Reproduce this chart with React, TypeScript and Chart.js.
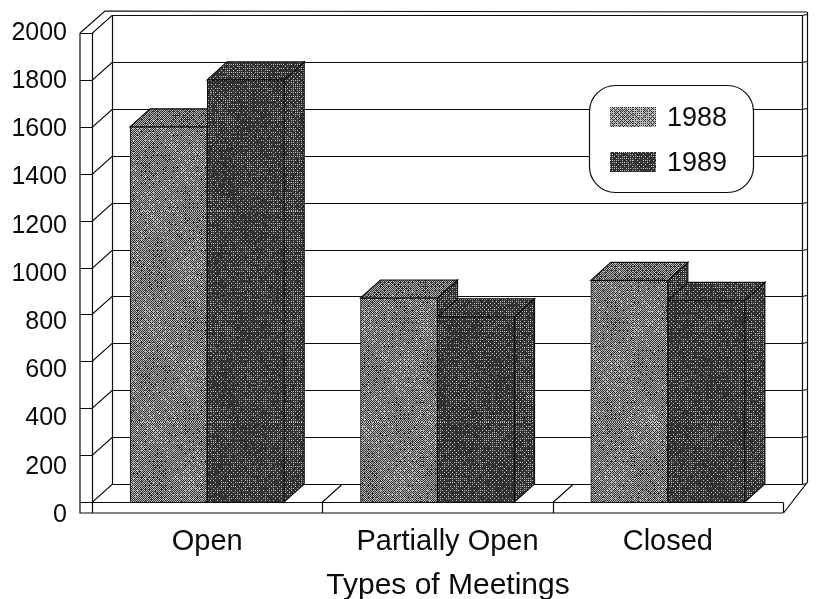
import React, { useEffect, useRef } from "react";
import { Chart, registerables } from "chart.js";

Chart.register(...registerables);

const categories = ["Open", "Partially Open", "Closed"];
const values1988 = [1600, 870, 945];
const values1989 = [1800, 790, 860];
const yearLabels = ["1988", "1989"];
const axisTitle = "Types of Meetings";

const INK = "#0c0c0c";
const DX = 20;
const DY = 18;
const FONT = "Liberation Sans, Arial, sans-serif";

const bayer = [
  [0, 8, 2, 10],
  [12, 4, 14, 6],
  [3, 11, 1, 9],
  [15, 7, 13, 5],
];

function dither(base: number, swing: number, seed: number): CanvasPattern {
  const size = 211;
  const c = document.createElement("canvas");
  c.width = size;
  c.height = size;
  const g = c.getContext("2d")!;
  const img = g.createImageData(size, size);
  for (let y = 0; y < size; y++) {
    for (let x = 0; x < size; x++) {
      const h = Math.sin(x * 12.9898 + y * 78.233 + seed) * 43758.5453;
      const grain = h - Math.floor(h) - 0.5;
      const blotch =
        Math.sin((x + seed) * 0.0893) * Math.cos((y - seed) * 0.0595) +
        0.4 * Math.sin(x * 0.238 - y * 0.119 + seed);
      const level = base + swing * blotch + grain * 50;
      const t = ((bayer[y % 4][x % 4] + 0.5) / 16) * 255;
      const v = level > t ? 185 : 50;
      const i = (y * size + x) * 4;
      img.data[i] = v;
      img.data[i + 1] = v;
      img.data[i + 2] = v;
      img.data[i + 3] = 255;
    }
  }
  g.putImageData(img, 0, 0);
  return g.createPattern(c, "repeat")!;
}

function line(ctx: CanvasRenderingContext2D, pts: number[][]) {
  ctx.beginPath();
  pts.forEach((p, i) => (i ? ctx.lineTo(p[0], p[1]) : ctx.moveTo(p[0], p[1])));
  ctx.stroke();
}

function poly(ctx: CanvasRenderingContext2D, pts: number[][], fill: any) {
  ctx.beginPath();
  pts.forEach((p, i) => (i ? ctx.lineTo(p[0], p[1]) : ctx.moveTo(p[0], p[1])));
  ctx.closePath();
  ctx.fillStyle = fill;
  ctx.fill();
  ctx.stroke();
}

export default function App() {
  const ref = useRef<HTMLCanvasElement>(null);

  useEffect(() => {
    const front = [dither(130, 16, 3), dither(32, 10, 11)];
    const top = [dither(112, 10, 7), dither(40, 8, 19)];
    const side = [dither(40, 8, 5), dither(42, 8, 23)];
    const swatch = [dither(165, 14, 2), dither(40, 10, 9)];
    const adjusted = new WeakSet<object>();

    const walls = {
      id: "walls",
      beforeDraw(chart: any) {
        const xs = chart.scales.x.getLabelItems();
        if (!adjusted.has(xs)) {
          adjusted.add(xs);
          xs[1].options.translation[0] += 10;
        }
        const ys = chart.scales.y.getLabelItems();
        if (!adjusted.has(ys)) {
          adjusted.add(ys);
          const n = ys.length - 1;
          ys.forEach((it: any, i: number) => {
            it.options.translation[1] += 13 * (1 - i / n);
          });
        }
      },
      beforeDatasetsDraw(chart: any) {
        const { ctx, chartArea: a, scales } = chart;
        const y = scales.y;
        const L = a.left;
        const R = a.right;
        const B = a.bottom;
        const T = a.top;
        ctx.save();
        ctx.strokeStyle = INK;
        ctx.lineWidth = 1.2;
        y.ticks.forEach((t: any) => {
          const py = Math.round(y.getPixelForValue(t.value)) + 0.5;
          line(ctx, [[L - 12, py], [L, py], [L + DX, py - DY], [R + DX - 1, py - DY]]);
          line(ctx, [[R + DX - 1, py - DY], [R + DX + 4, py - DY - 1]]);
        });
        line(ctx, [[L - 12, T], [L - 12, B + 11], [R, B + 11]]);
        line(ctx, [[L + 0.5, T], [L + 0.5, B + 11]]);
        line(ctx, [[L + DX + 0.5, T - DY], [L + DX + 0.5, B - DY]]);
        line(ctx, [[L - 12, T], [L + 13, T - 22], [R + DX + 4, T - 21]]);
        line(ctx, [[R + DX - 1 + 0.5, T - DY], [R + DX - 1 + 0.5, B - DY]]);
        line(ctx, [[R + DX + 4.5, T - 21], [R + DX + 4.5, B - 20], [R + 0.5, B + 11]]);
        line(ctx, [[R + 0.5, B + 0.5], [R + 0.5, B + 11]]);
        const band = (R - L) / categories.length;
        for (let i = 1; i < categories.length; i++) {
          const px = Math.round(L + band * i) + 0.5;
          line(ctx, [[px, B + 11], [px, B], [px + DX, B - DY]]);
        }
        chart.data.datasets.forEach((_: any, d: number) => {
          chart.getDatasetMeta(d).data.forEach((bar: any) => {
            const l = bar.x - bar.width / 2;
            const r = bar.x + bar.width / 2;
            poly(ctx, [[r, bar.y], [r + DX, bar.y - DY], [r + DX, bar.base - DY], [r, bar.base]], side[d]);
            poly(ctx, [[l, bar.y], [l + DX, bar.y - DY], [r + DX, bar.y - DY], [r, bar.y]], top[d]);
          });
        });
        ctx.restore();
      },
      afterDatasetsDraw(chart: any) {
        const { ctx, chartArea: a } = chart;
        ctx.save();
        ctx.strokeStyle = INK;
        ctx.lineWidth = 1.2;
        line(ctx, [[a.left - 12, a.bottom + 0.5], [a.right, a.bottom + 0.5]]);

        ctx.beginPath();
        ctx.roundRect(589.5, 85.5, 164, 107, 26);
        ctx.fillStyle = "#ffffff";
        ctx.fill();
        ctx.stroke();
        ctx.textBaseline = "middle";
        ctx.textAlign = "left";
        ctx.font = `27px ${FONT}`;
        yearLabels.forEach((label, i) => {
          const cy = 117 + i * 45;
          ctx.fillStyle = swatch[i];
          ctx.fillRect(610, cy - 10, 46, 20);
          ctx.fillStyle = INK;
          ctx.fillText(label, 667, cy + 2);
        });

        ctx.textAlign = "center";
        ctx.fillStyle = INK;
        ctx.font = `30px ${FONT}`;
        ctx.fillText(axisTitle, 448, 586);
        ctx.restore();
      },
    };

    const barStyle = { borderColor: INK, borderWidth: 1, barThickness: 77 };

    const chart = new Chart(ref.current!, {
      type: "bar",
      data: {
        labels: categories,
        datasets: [
          { label: yearLabels[0], data: values1988, backgroundColor: front[0] as any, ...barStyle },
          { label: yearLabels[1], data: values1989, backgroundColor: front[1] as any, ...barStyle },
        ],
      },
      options: {
        responsive: false,
        animation: false,
        layout: { padding: { top: 33, right: 33, left: 0, bottom: 0 } },
        plugins: { legend: { display: false }, tooltip: { enabled: false } },
        scales: {
          x: {
            grid: { display: false },
            border: { display: false },
            afterFit: (s: any) => {
              s.height = 97;
              s.paddingLeft = 0;
              s.paddingRight = 0;
            },
            ticks: { padding: 15, color: INK, maxRotation: 0, autoSkip: false, font: { family: FONT, size: 29 } },
          },
          y: {
            min: 0,
            max: 2000,
            grid: { display: false, drawTicks: false },
            border: { display: false },
            afterFit: (s: any) => {
              s.width = 92;
              s.paddingTop = 0;
              s.paddingBottom = 0;
            },
            ticks: {
              stepSize: 200,
              padding: 25,
              color: INK,
              font: { family: FONT, size: 25 },
              callback: (v: any) => String(v),
            },
          },
        },
      } as any,
      plugins: [walls as any],
    });
    return () => chart.destroy();
  }, []);

  return (
    <div style={{ position: "absolute", left: 0, top: 0, width: 816, height: 599, background: "#fff" }}>
      <canvas ref={ref} width={816} height={599} style={{ display: "block" }} />
    </div>
  );
}
